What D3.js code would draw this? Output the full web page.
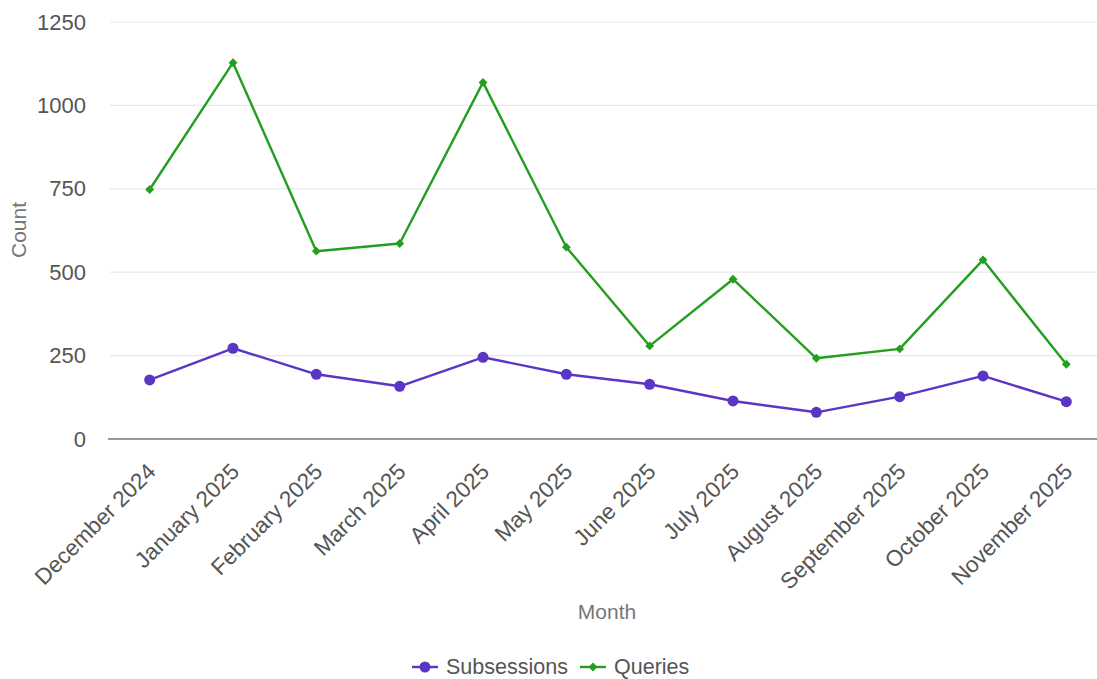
<!DOCTYPE html>
<html><head><meta charset="utf-8">
<script src="https://cdn.jsdelivr.net/npm/d3@7"></script>
<style>body{margin:0;background:#fff;}svg{display:block;font-family:"Liberation Sans",Arial,sans-serif;}</style>
</head><body><svg id="c" width="1097" height="679"></svg>
<script>
const months = ["December 2024","January 2025","February 2025","March 2025","April 2025","May 2025","June 2025","July 2025","August 2025","September 2025","October 2025","November 2025"];
const subsessions = [177,272,194,158,245,194,164,114,80,127,189,112];
const queries = [748,1128,563,586,1069,575,279,479,242,270,537,224];
const yTicks = [0,250,500,750,1000,1250];
const seriesNames = ["Subsessions","Queries"];
const colors = ["#5b35c4","#239e1f"];

const svg = d3.select("#c");
const x = d3.scalePoint().domain(months).range([108,1108]).padding(0.5);
const y = d3.scaleLinear().domain([0,1250]).range([439,22]);

// grid
svg.append("g").selectAll("line").data(yTicks.filter(d=>d>0)).join("line")
  .attr("x1",110).attr("x2",1097).attr("y1",d=>y(d)).attr("y2",d=>y(d))
  .attr("stroke","#e8e8e8").attr("stroke-width",1.2);

// y axis labels
const ya = svg.append("g").attr("transform","translate(86,0)")
  .call(d3.axisLeft(y).tickValues(yTicks).tickFormat(d3.format("d")).tickSize(0).tickPadding(0));
ya.select(".domain").remove();
ya.selectAll("text").attr("font-size",22).attr("fill","#555").attr("font-family","Liberation Sans, Arial, sans-serif");

// x axis
const xa = svg.append("g").attr("transform","translate(0,439)")
  .call(d3.axisBottom(x).tickSize(0).tickPadding(0));
xa.select(".domain").attr("stroke","#777").attr("stroke-width",1.6).attr("d","M108,0H1097");
xa.selectAll("text").attr("font-size",22.5).attr("fill","#555").attr("font-family","Liberation Sans, Arial, sans-serif")
  .attr("text-anchor","end").attr("dy","0")
  .attr("transform","translate(7,34) rotate(-45)");

// axis titles
svg.append("text").attr("transform","translate(26,230) rotate(-90)").attr("text-anchor","middle")
  .attr("font-size",21).attr("fill","#777").text("Count");
svg.append("text").attr("x",607).attr("y",619).attr("text-anchor","middle")
  .attr("font-size",21).attr("fill","#777").text("Month");

const data = [subsessions, queries];
const line = d3.line().x((d,i)=>x(months[i])).y(d=>y(d));
data.forEach((vals,k)=>{
  svg.append("path").datum(vals).attr("d",line).attr("fill","none")
    .attr("stroke",colors[k]).attr("stroke-width",2.4).attr("stroke-linejoin","round");
});
// markers
svg.append("g").selectAll("circle").data(subsessions).join("circle")
  .attr("cx",(d,i)=>x(months[i])).attr("cy",d=>y(d)).attr("r",5.5).attr("fill",colors[0]);
svg.append("g").selectAll("path").data(queries).join("path")
  .attr("d",d3.symbol(d3.symbolDiamond2,50)())
  .attr("transform",(d,i)=>`translate(${x(months[i])},${y(d)})`).attr("fill",colors[1]);

// legend
const leg = [{name:seriesNames[0],x0:412,tx:446},{name:seriesNames[1],x0:580,tx:614}];
leg.forEach((l,k)=>{
  const g = svg.append("g");
  g.append("line").attr("x1",l.x0).attr("x2",l.x0+26).attr("y1",667).attr("y2",667)
    .attr("stroke",colors[k]).attr("stroke-width",2.4);
  if(k===0) g.append("circle").attr("cx",l.x0+13).attr("cy",667).attr("r",5.5).attr("fill",colors[0]);
  else g.append("path").attr("d",d3.symbol(d3.symbolDiamond2,50)()).attr("transform",`translate(${l.x0+13},667)`).attr("fill",colors[1]);
  g.append("text").attr("x",l.tx).attr("y",674).attr("font-size",21.5).attr("fill","#555").text(l.name);
});
</script></body></html>
